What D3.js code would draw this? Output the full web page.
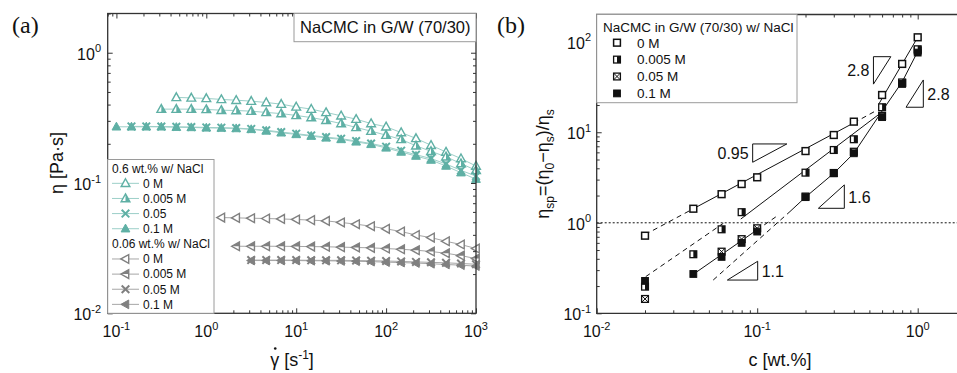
<!DOCTYPE html>
<html>
<head>
<meta charset="utf-8">
<script src="https://cdn.jsdelivr.net/npm/d3@7"></script>
<style>
  body { margin: 0; background: #fff; }
  svg { display: block; }
  text { font-family: "Liberation Sans", Arial, sans-serif; fill: #111; }
</style>
</head>
<body>
<svg id="chart" width="957" height="373"></svg>
<script>
// ---------- Panel (a): flow curves, eta vs shear rate ----------
// shear rates, 6 points per decade from 0.1 to 1000 s^-1
const shearRate = [0.1, 0.147, 0.215, 0.316, 0.464, 0.681, 1, 1.47, 2.15, 3.16, 4.64, 6.81,
  10, 14.7, 21.5, 31.6, 46.4, 68.1, 100, 147, 215, 316, 464, 681, 1000];

// 0.6 wt.% NaCMC (each series ends at 1000 s^-1)
const eta06_0M = [0.454, 0.450, 0.446, 0.438, 0.432, 0.425, 0.415, 0.403, 0.384, 0.369, 0.348,
  0.328, 0.309, 0.286, 0.270, 0.244, 0.220, 0.195, 0.173, 0.154, 0.135];
const eta06_0005M = [0.369, 0.369, 0.369, 0.367, 0.362, 0.360, 0.356, 0.348, 0.341, 0.330, 0.318,
  0.303, 0.286, 0.267, 0.250, 0.233, 0.216, 0.193, 0.175, 0.159, 0.141, 0.125];
const eta06_005M = [0.272, 0.272, 0.271, 0.270, 0.269, 0.267, 0.266, 0.264, 0.260, 0.254, 0.246,
  0.239, 0.232, 0.225, 0.219, 0.210, 0.201, 0.190, 0.177, 0.165, 0.154, 0.140, 0.125, 0.113];
const eta06_01M = [0.270, 0.270, 0.270, 0.270, 0.268, 0.267, 0.265, 0.264, 0.262, 0.258, 0.251,
  0.243, 0.236, 0.229, 0.222, 0.216, 0.207, 0.198, 0.186, 0.173, 0.161, 0.150, 0.135, 0.120, 0.107];

// 0.06 wt.% NaCMC
const eta006_0M = [0.0543, 0.0540, 0.0537, 0.0534, 0.0530, 0.0525, 0.0519, 0.0512, 0.0498,
  0.0483, 0.0466, 0.0445, 0.0424, 0.0399, 0.0381, 0.0357, 0.0337, 0.0314];
const eta006_0005M = [0.0327, 0.0327, 0.0327, 0.0327, 0.0326, 0.0325, 0.0324, 0.0322, 0.0320,
  0.0318, 0.0314, 0.0310, 0.0305, 0.0298, 0.0289, 0.0277, 0.0263];
const eta006_005M = [0.0256, 0.0256, 0.0256, 0.0256, 0.0255, 0.0255, 0.0255, 0.0254, 0.0253,
  0.0252, 0.0250, 0.0248, 0.0246, 0.0244, 0.0241, 0.0238];
const eta006_01M = [0.0254, 0.0254, 0.0254, 0.0254, 0.0253, 0.0253, 0.0252, 0.0251, 0.0249,
  0.0247, 0.0245, 0.0243, 0.0240, 0.0237, 0.0234, 0.0230];

const legendA_06 = ["0 M", "0.005 M", "0.05", "0.1 M"];
const legendA_006 = ["0 M", "0.005 M", "0.05 M", "0.1 M"];

// ---------- Panel (b): specific viscosity vs concentration ----------
const conc = [0.02, 0.04, 0.06, 0.08, 0.1, 0.2, 0.3, 0.4, 0.6, 0.8, 1.0];
const etaSp_0M = [0.72, 1.43, 2.07, 2.68, 3.18, 6.2, 9.33, 13.1, 25.8, 56.9, 112];
const etaSp_0005M = [0.197, 0.449, 0.847, 1.31, null, 3.58, 6.37, 8.37, 18.9, 35.5, 82.6];
const etaSp_005M = [0.144, null, 0.48, 0.66, 0.87, 1.95, 3.55, 6.1, 15.2, 35, 80];
const etaSp_01M = [0.228, 0.272, 0.42, 0.60, 0.80, 1.92, 3.52, 5.86, 14.7, 34.2, 75.9];
const legendB = ["0 M", "0.005 M", "0.05 M", "0.1 M"];

// scaling-law guide lines as [c, eta_sp] vertices, plus dashed flag
const fitLines = [
  { pts: [[0.02, 0.74], [0.04, 1.43]], dashed: true },
  { pts: [[0.04, 1.43], [0.40, 12.7]], dashed: false },
  { pts: [[0.40, 12.7], [0.55, 17.3]], dashed: true },
  { pts: [[0.575, 20.8], [1.0, 112]], dashed: false },
  { pts: [[0.0202, 0.254], [0.0615, 0.987]], dashed: true },
  { pts: [[0.079, 1.10], [0.59, 16.4]], dashed: false },
  { pts: [[0.04, 0.27], [0.0995, 0.832]], dashed: false },
  { pts: [[0.0995, 0.832], [0.135, 1.21]], dashed: true },
  { pts: [[0.0532, 0.233], [0.16, 1.33]], dashed: true },
  { pts: [[0.16, 1.33], [0.2, 1.92], [0.3, 3.52], [0.4, 5.86], [0.59, 16.4]], dashed: false },
  { pts: [[0.59, 16.4], [0.8, 36], [1.0, 78]], dashed: false }
];

// slope triangles: [c start, c end, eta at horizontal edge, exponent, horizontal edge on top?, label]
const slopeTriangles = [
  [0.0937, 0.153, 7.43, 0.95, true, "0.95"],
  [0.530, 0.680, 68.4, 2.8, true, "2.8"],
  [0.846, 1.084, 18.9, 2.8, false, "2.8"],
  [0.2405, 0.349, 1.445, 1.6, false, "1.6"],
  [0.0652, 0.1007, 0.233, 1.1, false, "1.1"]
];

const teal = "#5fb0a5", tealLine = "#9ccfc8";
const grey = "#808080", greyLine = "#a6a6a6";

const svg = d3.select("#chart");

// ---------- helpers ----------
function logTicks(scale) {
  const [a, b] = scale.domain();
  const majors = [], minors = [];
  for (let e = Math.floor(Math.log10(a)); e <= Math.ceil(Math.log10(b)); e++) {
    for (let m = 1; m < 10; m++) {
      const v = m * Math.pow(10, e);
      if (v < a * 0.999 || v > b * 1.001) continue;
      (m === 1 ? majors : minors).push(v);
    }
  }
  return { majors, minors };
}

function drawTicks(g, x, y, sides) {
  const tx = logTicks(x), ty = logTicks(y);
  const [X0, X1] = x.range(), [Y0, Y1] = y.range();
  const mk = (axisFn, scale, vals, len, tf) =>
    g.append("g").attr("transform", tf)
      .call(axisFn(scale).tickValues(vals).tickSize(-len).tickFormat(""))
      .call(s => s.select(".domain").remove())
      .selectAll("line").attr("stroke", "#333").attr("stroke-width", 1);
  if (sides.includes("b")) { mk(d3.axisBottom, x, tx.majors, 5, `translate(0,${Y0})`); mk(d3.axisBottom, x, tx.minors, 3, `translate(0,${Y0})`); }
  if (sides.includes("t")) { mk(d3.axisTop, x, tx.majors, 5, `translate(0,${Y1})`); mk(d3.axisTop, x, tx.minors, 3, `translate(0,${Y1})`); }
  if (sides.includes("l")) { mk(d3.axisLeft, y, ty.majors, 5, `translate(${X0},0)`); mk(d3.axisLeft, y, ty.minors, 3, `translate(${X0},0)`); }
  if (sides.includes("r")) { mk(d3.axisRight, y, ty.majors, 5, `translate(${X1},0)`); mk(d3.axisRight, y, ty.minors, 3, `translate(${X1},0)`); }
}

function powLabel(g, v, xpos, ypos, anchor) {
  const e = Math.round(Math.log10(v));
  const t = g.append("text").attr("x", xpos).attr("y", ypos)
    .attr("text-anchor", anchor).style("font-size", "16px");
  t.append("tspan").text("10");
  t.append("tspan").attr("dy", -7.5).style("font-size", "11px").text(e < 0 ? "-" + (-e) : String(e));
}

function tickLabels(g, x, y, yRight) {
  const [Y0] = y.range();
  logTicks(x).majors.forEach(v => powLabel(g, v, x(v), Y0 + 24, "middle"));
  logTicks(y).majors.forEach(v => powLabel(g, v, yRight, y(v) + 7, "end"));
}

// marker drawing
function triUp(s) { return `M0,${-s}L${s * 0.95},${s * 0.7}L${-s * 0.95},${s * 0.7}Z`; }
function triLeft(s) { return `M${-s},0L${s * 0.7},${-s * 0.95}L${s * 0.7},${s * 0.95}Z`; }

function drawMarker(g, kind, shape, color, cx, cy) {
  const m = g.append("g").attr("transform", `translate(${cx},${cy})`);
  if (shape === "up" || shape === "left") {
    const s = 4.6;
    const path = shape === "up" ? triUp(s) : triLeft(s);
    if (kind === "open") {
      m.append("path").attr("d", path).attr("fill", "#fff").attr("stroke", color).attr("stroke-width", 1.4);
    } else if (kind === "half") {
      m.append("path").attr("d", path).attr("fill", "#fff").attr("stroke", color).attr("stroke-width", 1.4);
      const half = shape === "up"
        ? `M0,${-s}L${s * 0.95},${s * 0.7}L0,${s * 0.7}Z`
        : `M${-s},0L${s * 0.7},${-s * 0.95}L${s * 0.7},0Z`;
      m.append("path").attr("d", half).attr("fill", color);
    } else if (kind === "cross") {
      const c = 3.8;
      m.append("path").attr("d", `M${-c},${-c}L${c},${c}M${-c},${c}L${c},${-c}`)
        .attr("stroke", color).attr("stroke-width", 2);
    } else {
      m.append("path").attr("d", path).attr("fill", color).attr("stroke", color).attr("stroke-width", 1);
    }
  } else {
    const h = 3.4;
    if (kind === "open") {
      m.append("rect").attr("x", -h).attr("y", -h).attr("width", 2 * h).attr("height", 2 * h)
        .attr("fill", "#fff").attr("stroke", "#111").attr("stroke-width", 1.5);
    } else if (kind === "half") {
      m.append("rect").attr("x", -h).attr("y", -h).attr("width", 2 * h).attr("height", 2 * h)
        .attr("fill", "#fff").attr("stroke", "#111").attr("stroke-width", 1.3);
      m.append("rect").attr("x", 0).attr("y", -h).attr("width", h).attr("height", 2 * h).attr("fill", "#111");
    } else if (kind === "cross") {
      m.append("rect").attr("x", -h).attr("y", -h).attr("width", 2 * h).attr("height", 2 * h)
        .attr("fill", "#fff").attr("stroke", "#111").attr("stroke-width", 1.3);
      m.append("path").attr("d", `M${-h},${-h}L${h},${h}M${-h},${h}L${h},${-h}`)
        .attr("stroke", "#111").attr("stroke-width", 1);
    } else {
      m.append("rect").attr("x", -h).attr("y", -h).attr("width", 2 * h).attr("height", 2 * h)
        .attr("fill", "#111").attr("stroke", "#111").attr("stroke-width", 1);
    }
  }
}

// ========== Panel (a) ==========
const xA = d3.scaleLog().domain([0.08, 1000]).range([107.7, 476]);
const yA = d3.scaleLog().domain([0.01, 2]).range([313.3, 13.5]);
const gA = svg.append("g");

const seriesA = [
  { vals: eta006_0M, kind: "open", shape: "left", color: grey, line: greyLine },
  { vals: eta006_0005M, kind: "half", shape: "left", color: grey, line: greyLine },
  { vals: eta006_01M, kind: "filled", shape: "left", color: grey, line: greyLine },
  { vals: eta006_005M, kind: "cross", shape: "left", color: grey, line: greyLine },
  { vals: eta06_0M, kind: "open", shape: "up", color: teal, line: tealLine },
  { vals: eta06_0005M, kind: "half", shape: "up", color: teal, line: tealLine },
  { vals: eta06_01M, kind: "filled", shape: "up", color: teal, line: tealLine },
  { vals: eta06_005M, kind: "cross", shape: "up", color: teal, line: tealLine }
];
const lineA = d3.line().x(d => xA(d[0])).y(d => yA(d[1]));
seriesA.forEach(s => {
  const rates = shearRate.slice(shearRate.length - s.vals.length);
  const pts = s.vals.map((v, i) => [rates[i], v]);
  gA.append("path").attr("d", lineA(pts)).attr("fill", "none").attr("stroke", s.line).attr("stroke-width", 1);
});
seriesA.forEach(s => {
  const rates = shearRate.slice(shearRate.length - s.vals.length);
  s.vals.forEach((v, i) => drawMarker(gA, s.kind, s.shape, s.color, xA(rates[i]), yA(v)));
});

drawTicks(gA, xA, yA, "btlr");
gA.append("rect").attr("x", 107.7).attr("y", 13.5).attr("width", 476 - 107.7).attr("height", 313.3 - 13.5)
  .attr("fill", "none").attr("stroke", "#333").attr("stroke-width", 1.3);

// legend (a)
const legA = gA.append("g");
legA.append("rect").attr("x", 107.7).attr("y", 159.5).attr("width", 214 - 107.7).attr("height", 313.3 - 159.5)
  .attr("fill", "#fff").attr("stroke", "#9a9a9a").attr("stroke-width", 1);
const rowsA = [
  { head: "0.6 wt.% w/ NaCl" },
  ...legendA_06.map((t, i) => ({ t, kind: ["open", "half", "cross", "filled"][i], shape: "up", color: teal, line: tealLine })),
  { head: "0.06 wt.% w/ NaCl" },
  ...legendA_006.map((t, i) => ({ t, kind: ["open", "half", "cross", "filled"][i], shape: "left", color: grey, line: greyLine }))
];
rowsA.forEach((r, i) => {
  const yy = 168.2 + i * 15.13;
  if (r.head) {
    legA.append("text").attr("x", 112).attr("y", yy + 4.3).style("font-size", "12px").text(r.head);
  } else {
    legA.append("line").attr("x1", 112).attr("x2", 139).attr("y1", yy).attr("y2", yy)
      .attr("stroke", r.line).attr("stroke-width", 1);
    drawMarker(legA, r.kind, r.shape, r.color, 125.5, yy);
    legA.append("text").attr("x", 143).attr("y", yy + 4.3).style("font-size", "12px").text(r.t);
  }
});

// title box (a)
gA.append("rect").attr("x", 294).attr("y", 13.5).attr("width", 476 - 294).attr("height", 28.2)
  .attr("fill", "#fff").attr("stroke", "#9a9a9a").attr("stroke-width", 1);
gA.append("text").attr("x", 300).attr("y", 33.3).style("font-size", "16.5px").text("NaCMC in G/W (70/30)");

tickLabels(gA, xA, yA, 101);

gA.append("text").attr("x", 12).attr("y", 33).style("font-family", "'Liberation Serif', serif")
  .style("font-size", "24px").text("(a)");
gA.append("text").attr("transform", "translate(63,163) rotate(-90)").attr("text-anchor", "middle")
  .style("font-size", "18px").text("η [Pa·s]");

// x title (a): shear rate symbol with an overdot
const xtA = gA.append("text").attr("x", 292).attr("y", 366).attr("text-anchor", "middle").style("font-size", "18px");
xtA.append("tspan").text("γ [s");
xtA.append("tspan").attr("dy", -7).style("font-size", "12px").text("-1");
xtA.append("tspan").attr("dy", 7).text("]");
const gBox = xtA.node().getExtentOfChar(0);
gA.append("circle").attr("cx", gBox.x + gBox.width / 2 + 0.6).attr("cy", 348.5).attr("r", 1.3).attr("fill", "#111");

// ========== Panel (b) ==========
const xB = d3.scaleLog().domain([0.01, 2]).range([596.7, 596.7 + 160.5 * Math.log10(200)]);
const yB = d3.scaleLog().domain([0.1, 200]).range([313.3, 14.5]);
const gB = svg.append("g");

// reference line eta_sp = 1
gB.append("line").attr("x1", xB(0.01)).attr("x2", xB(2)).attr("y1", yB(1)).attr("y2", yB(1))
  .attr("stroke", "#111").attr("stroke-width", 1).attr("stroke-dasharray", "2,2");

const lineB = d3.line().x(d => xB(d[0])).y(d => yB(d[1]));
fitLines.forEach(f => {
  gB.append("path").attr("d", lineB(f.pts)).attr("fill", "none")
    .attr("stroke", "#111").attr("stroke-width", 1).attr("stroke-dasharray", f.dashed ? "5,4" : null);
});

const seriesB = [
  { vals: etaSp_0M, kind: "open" },
  { vals: etaSp_005M, kind: "cross" },
  { vals: etaSp_0005M, kind: "half" },
  { vals: etaSp_01M, kind: "filled" }
];
seriesB.forEach(s => s.vals.forEach((v, i) => {
  if (v != null) drawMarker(gB, s.kind, "sq", "#111", xB(conc[i]), yB(v));
}));

slopeTriangles.forEach(t => {
  const [c0, c1, e, n, top, lab] = t;
  const ratio = Math.pow(c1 / c0, n);
  let pts, lx, ly, anchor;
  if (top) {
    pts = [[c0, e], [c1, e], [c0, e / ratio]];
    lx = xB(c0) - 4; ly = (yB(e) + yB(e / ratio)) / 2 + 6; anchor = "end";
  } else {
    pts = [[c0, e], [c1, e], [c1, e * ratio]];
    lx = xB(c1) + 4; ly = (yB(e) + yB(e * ratio)) / 2 + 6; anchor = "start";
  }
  gB.append("path").attr("d", lineB(pts) + "Z")
    .attr("fill", "none").attr("stroke", "#111").attr("stroke-width", 1);
  gB.append("text").attr("x", lx).attr("y", ly).attr("text-anchor", anchor).style("font-size", "16px").text(lab);
});

drawTicks(gB, xB, yB, "btl");
gB.append("path").attr("d", `M${xB(2)},${yB(200)}H${xB(0.01)}V${yB(0.1)}H${xB(2)}`)
  .attr("fill", "none").attr("stroke", "#333").attr("stroke-width", 1.3);

// legend (b)
const legB = gB.append("g");
legB.append("rect").attr("x", 596.7).attr("y", 14.5).attr("width", 797 - 596.7).attr("height", 102.7 - 14.5)
  .attr("fill", "#fff").attr("stroke", "#9a9a9a").attr("stroke-width", 1);
legB.append("text").attr("x", 603).attr("y", 32.3).style("font-size", "13.5px").text("NaCMC in G/W (70/30) w/ NaCl");
legendB.forEach((t, i) => {
  const yy = 42.7 + i * 16.9;
  drawMarker(legB, ["open", "half", "cross", "filled"][i], "sq", "#111", 617, yy);
  legB.append("text").attr("x", 637).attr("y", yy + 4.8).style("font-size", "13.5px").text(t);
});

tickLabels(gB, xB, yB, 591);

gB.append("text").attr("x", 497).attr("y", 33).style("font-family", "'Liberation Serif', serif")
  .style("font-size", "24px").text("(b)");
gB.append("text").attr("x", 780).attr("y", 366).attr("text-anchor", "middle").style("font-size", "18px").text("c [wt.%]");

const ytB = gB.append("text").attr("transform", "translate(549,164) rotate(-90)").attr("text-anchor", "middle")
  .style("font-size", "18px");
[["η", 0], ["sp", 1], ["=(η", 0], ["0", 1], ["−η", 0], ["s", 1], [")/η", 0], ["s", 1]].forEach(([s, sub], i, arr) => {
  const prev = i > 0 ? arr[i - 1][1] : 0;
  const dy = (sub ? 5 : 0) - (prev ? 5 : 0);
  ytB.append("tspan").attr("dy", dy).style("font-size", sub ? "12px" : "18px").text(s);
});
</script>
</body>
</html>
